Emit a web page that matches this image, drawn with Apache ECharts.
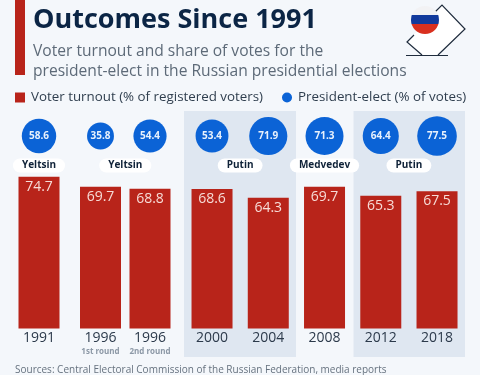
<!DOCTYPE html>
<html>
<head>
<meta charset="utf-8">
<title>Outcomes Since 1991</title>
<style>
  html, body { margin: 0; padding: 0; background: #f4f7fb; }
  #chart { width: 480px; height: 375px; }
</style>
<script src="https://cdn.jsdelivr.net/npm/echarts@6/dist/echarts.min.js"></script>
</head>
<body>
<div id="chart"></div>
<script>
// Data
const years = ['1991', '1996', '1996', '2000', '2004', '2008', '2012', '2018'];
const rounds = ['', '1st round', '2nd round', '', '', '', '', ''];
const turnout = [74.7, 69.7, 68.8, 68.6, 64.3, 69.7, 65.3, 67.5];
const presidentShare = [58.6, 35.8, 54.4, 53.4, 71.9, 71.3, 64.4, 77.5];
const winners = ['Yeltsin', 'Yeltsin', 'Putin', 'Medvedev', 'Putin'];
const winnerFirst = [0, 1, 3, 5, 6];
const winnerLast = [0, 2, 4, 5, 7];

const turnoutName = 'Voter turnout (% of registered voters)';
const shareName = 'President-elect (% of votes)';

const RED = '#b8241a';
const BLUE = '#0b63d6';
const FONT = '"Open Sans", sans-serif';

// Bars are not evenly spaced, so each run of equal spacing gets its own grid
const runs = [
    { from: 0, to: 1, left: 11, width: 56 },
    { from: 1, to: 3, left: 75.75, width: 99 },
    { from: 3, to: 8, left: 183.9, width: 281.25 }
];

function barCenter(i) {
    const run = runs.find(r => i >= r.from && i < r.to);
    return run.left + (i - run.from + 0.5) * run.width / (run.to - run.from);
}

const grids = [], xAxes = [], yAxes = [], series = [];

runs.forEach(run => {
    const cats = years.slice(run.from, run.to);
    const subs = rounds.slice(run.from, run.to);

    // turnout bars
    const barIdx = grids.length;
    grids.push({ left: run.left, width: run.width, top: 165.9, height: 162.6 });
    xAxes.push({
        type: 'category', gridIndex: barIdx, data: cats,
        axisLine: { show: false }, axisTick: { show: false },
        axisLabel: {
            margin: 1, interval: 0, verticalAlign: 'top',
            formatter: (v, i) => subs[i] ? '{y|' + v + '}\n{s|' + subs[i] + '}' : '{y|' + v + '}',
            rich: {
                y: { fontFamily: FONT, fontSize: 14, color: '#2c3a4b', lineHeight: 17 },
                s: { fontFamily: FONT, fontSize: 8, fontWeight: 'bold', color: '#8c98a6', lineHeight: 10 }
            }
        }
    });
    yAxes.push({ type: 'value', gridIndex: barIdx, min: 0, max: 80, show: false });
    series.push({
        name: turnoutName, type: 'bar', xAxisIndex: barIdx, yAxisIndex: barIdx,
        data: turnout.slice(run.from, run.to), barWidth: 41,
        itemStyle: { color: RED },
        label: {
            show: true, position: 'insideTop', distance: 3,
            fontFamily: FONT, fontSize: 14, color: '#f7dcd7',
            formatter: p => p.value.toFixed(1)
        }
    });

    // president-elect bubbles, a row of their own above the bars
    const dotIdx = grids.length;
    grids.push({ left: run.left, width: run.width, top: 116, height: 40 });
    xAxes.push({ type: 'category', gridIndex: dotIdx, data: cats, show: false });
    yAxes.push({ type: 'category', gridIndex: dotIdx, data: ['share'], show: false });
    series.push({
        name: shareName, type: 'scatter', xAxisIndex: dotIdx, yAxisIndex: dotIdx,
        data: presidentShare.slice(run.from, run.to).map((v, i) => [i, 0, v]),
        symbolSize: d => 4.5 * Math.sqrt(d[2]),
        clip: false,
        itemStyle: { color: BLUE, opacity: 1 },
        label: {
            show: true, position: 'inside',
            fontFamily: FONT, fontSize: 10, fontWeight: 'bold', color: '#e8f1fc',
            formatter: p => p.value[2].toFixed(1)
        }
    });
});

const winnerPills = winners.map((name, i) => ({
    type: 'text', z: 5,
    x: (barCenter(winnerFirst[i]) + barCenter(winnerLast[i])) / 2, y: 165.5,
    style: {
        text: name, fontFamily: FONT, fontSize: 10, fontWeight: 'bold', fill: '#0f2238',
        align: 'center', verticalAlign: 'middle',
        backgroundColor: '#ffffff', padding: [2, 9], borderRadius: 7
    }
}));

const chart = echarts.init(document.getElementById('chart'));
chart.setOption({
    animation: false,
    backgroundColor: '#f4f7fb',
    title: [
        { text: 'Outcomes Since 1991', left: 28, top: 2,
          textStyle: { fontFamily: FONT, fontSize: 27, fontWeight: 'bold', color: '#0b2545' } },
        { text: 'Voter turnout and share of votes for the\npresident-elect in the Russian presidential elections', left: 28, top: 37,
          textStyle: { fontFamily: FONT, fontSize: 15.6, fontWeight: 'normal', color: '#5d6a78', lineHeight: 20 } },
        { text: 'Sources: Central Electoral Commission of the Russian Federation, media reports', left: 10, top: 360,
          textStyle: { fontFamily: FONT, fontSize: 10, fontWeight: 'normal', color: '#66727f' } }
    ],
    legend: {
        left: 15, top: 91, itemWidth: 10, itemHeight: 10, itemGap: 19, padding: 0,
        data: [
            { name: turnoutName, icon: 'rect' },
            { name: shareName, icon: 'circle' }
        ],
        textStyle: { fontFamily: FONT, fontSize: 13.35, color: '#2f3e4e', padding: [0, 0, 0, 1] }
    },
    grid: grids,
    xAxis: xAxes,
    yAxis: yAxes,
    series: series,
    graphic: [
        // shaded bands behind the Putin terms
        { type: 'rect', z: -10, shape: { x: 184, y: 111, width: 112, height: 246 }, style: { fill: '#dfe7f1' } },
        { type: 'rect', z: -10, shape: { x: 353.5, y: 111, width: 111.5, height: 246 }, style: { fill: '#dfe7f1' } },
        // red accent next to the title
        { type: 'rect', shape: { x: 15, y: 0, width: 10, height: 75 }, style: { fill: RED } },
        // ballot icon
        { type: 'polygon', shape: { points: [[442, 5], [465, 29], [438, 55], [422, 55], [407, 42]] }, style: { fill: '#ffffff' } },
        { type: 'polyline', shape: { points: [[435, 12], [442, 5], [465, 29], [438, 55]] }, style: { stroke: '#1f2c3d', lineWidth: 1.2, fill: null } },
        { type: 'polyline', shape: { points: [[414, 35], [407, 42], [422, 55]] }, style: { stroke: '#1f2c3d', lineWidth: 1.2, fill: null } },
        { type: 'line', shape: { x1: 406, y1: 55.5, x2: 448, y2: 55.5 }, style: { stroke: '#1f2c3d', lineWidth: 1.2 } },
        { type: 'circle', shape: { cx: 425, cy: 20, r: 14 }, style: {
            fill: new echarts.graphic.LinearGradient(0, 0, 0, 1, [
                { offset: 0, color: '#f2f2f4' }, { offset: 0.33, color: '#f2f2f4' },
                { offset: 0.33, color: '#123a9c' }, { offset: 0.66, color: '#123a9c' },
                { offset: 0.66, color: '#d9301f' }, { offset: 1, color: '#d9301f' }
            ])
        } }
    ].concat(winnerPills)
});
</script>
</body>
</html>
